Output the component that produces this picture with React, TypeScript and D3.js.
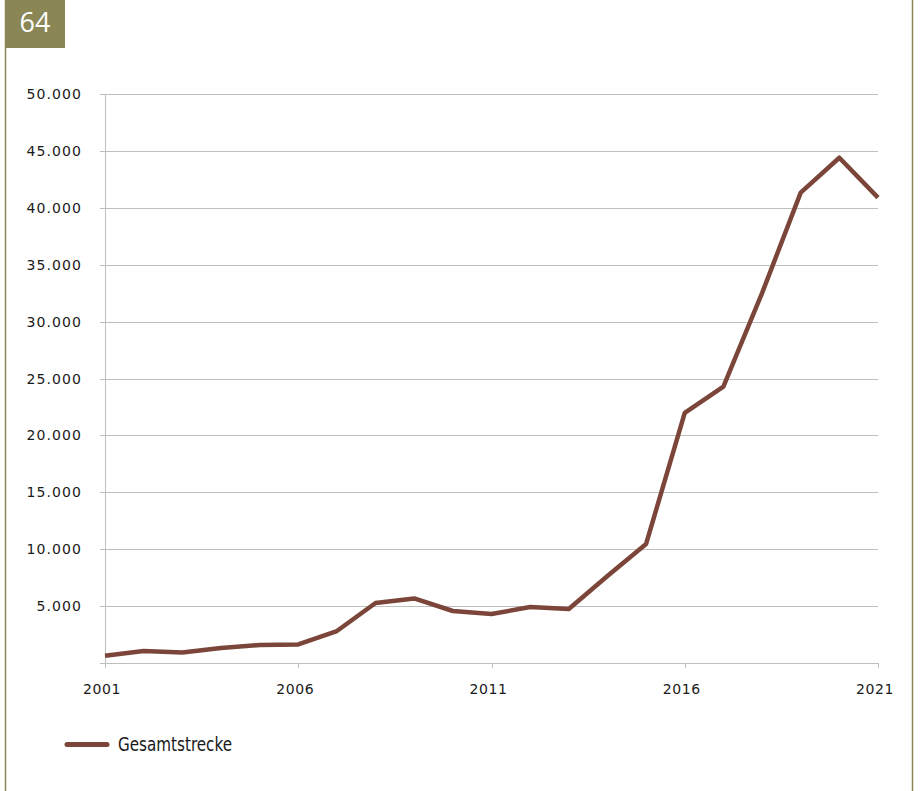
import React from "react";
import * as d3 from "d3";

const years = [2001,2002,2003,2004,2005,2006,2007,2008,2009,2010,2011,2012,2013,2014,2015,2016,2017,2018,2019,2020,2021];
const values = [640,1050,920,1320,1580,1630,2810,5270,5670,4570,4300,4920,4750,7650,10460,21970,24280,32500,41330,44400,40890];
const yTicks = [5000,10000,15000,20000,25000,30000,35000,40000,45000,50000];
const xTicks = [2001,2006,2011,2016,2021];
const seriesName = "Gesamtstrecke";
const pageNumber = "64";

const W = 920, H = 791;
const left = 105, right = 878, top = 94, bottom = 663;
const olive = "#8a8656";
const lineColor = "#7b4539";
const grid = "#bfbfbf";

export default function App() {
  const x = d3.scaleLinear().domain([2001, 2021]).range([left, right]);
  const y = d3.scaleLinear().domain([0, 50000]).range([bottom, top]);
  const line = d3.line<number>().x((_, i) => x(years[i])).y(d => y(d));
  const fmt = (v: number) => d3.format(",")(v).replace(/,/g, ".");
  const tickFont = "'DejaVu Sans', 'Open Sans', sans-serif";
  return (
    <svg width={W} height={H} style={{ position: "absolute", left: 0, top: 0, background: "#fff" }}>
      <rect x={0} y={0} width={W} height={H} fill="#fff" />
      {/* frame */}
      <line x1={5.5} y1={0} x2={5.5} y2={H} stroke={olive} strokeWidth={1.5} />
      <line x1={912.5} y1={0} x2={912.5} y2={H} stroke={olive} strokeWidth={1.5} />
      <rect x={5} y={0} width={60} height={48} fill={olive} />
      <text x={35} y={32} textAnchor="middle" fill="#fff" fontSize={27} fontFamily="'Open Sans', sans-serif">{pageNumber}</text>
      {/* grid */}
      {yTicks.map(t => (
        <g key={t}>
          <line x1={left - 5} x2={right} y1={Math.round(y(t)) + 0.5} y2={Math.round(y(t)) + 0.5} stroke={grid} strokeWidth={1} />
          <text x={82} y={y(t) + 5} textAnchor="end" fontSize={14} letterSpacing={1.1} fontFamily={tickFont} fill="#1a1a1a">{fmt(t)}</text>
        </g>
      ))}
      {/* axes */}
      <line x1={left + 0.5} x2={left + 0.5} y1={top} y2={bottom + 5} stroke={grid} strokeWidth={1} />
      <line x1={left - 5} x2={right} y1={bottom + 0.5} y2={bottom + 0.5} stroke={grid} strokeWidth={1} />
      {xTicks.map(t => (
        <g key={t}>
          <line x1={Math.round(x(t)) + 0.5} x2={Math.round(x(t)) + 0.5} y1={bottom} y2={bottom + 5} stroke={grid} strokeWidth={1} />
          <text x={x(t) - 3} y={694} textAnchor="middle" fontSize={14} letterSpacing={0.6} fontFamily={tickFont} fill="#1a1a1a">{t}</text>
        </g>
      ))}
      <path d={line(values) || ""} fill="none" stroke={lineColor} strokeWidth={4.5} strokeLinejoin="round" />
      {/* legend */}
      <line x1={67} x2={107} y1={744.5} y2={744.5} stroke={lineColor} strokeWidth={5} strokeLinecap="round" />
      <text x={118} y={751} fontSize={19} textLength={114} lengthAdjust="spacingAndGlyphs" fontFamily="'Liberation Sans Narrow', 'DejaVu Sans Condensed', sans-serif" fill="#1a1a1a">{seriesName}</text>
    </svg>
  );
}
